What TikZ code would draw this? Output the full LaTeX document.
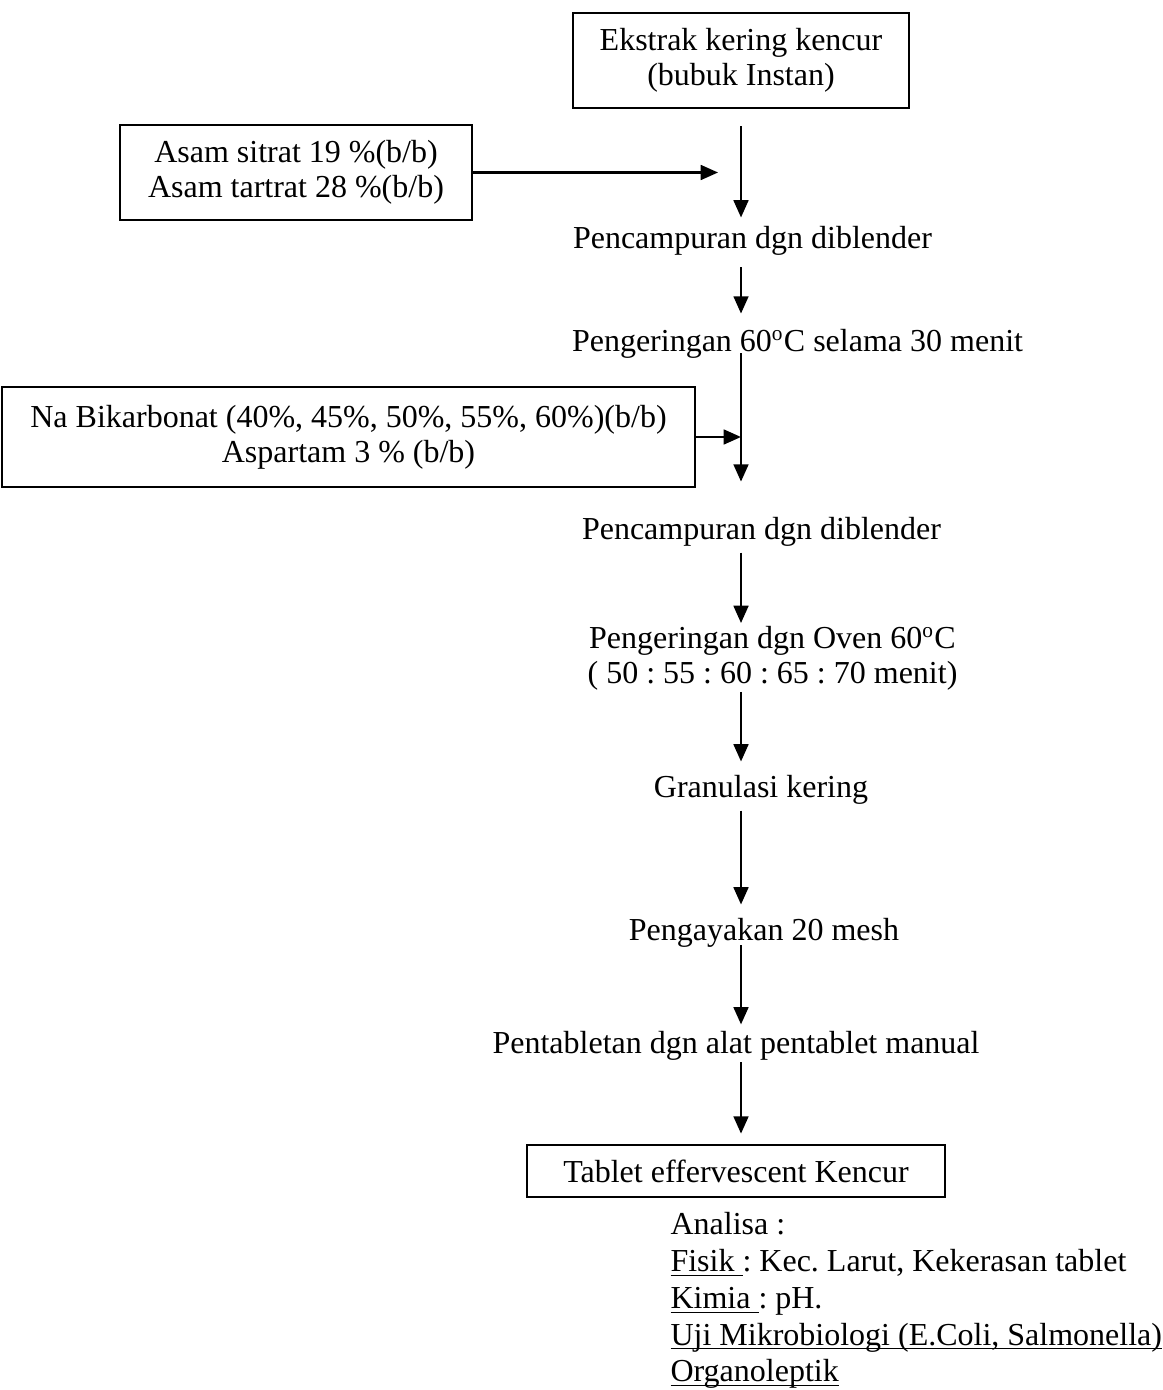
\documentclass[tikz,border=0pt]{standalone}
\usepackage{fontspec}
\setmainfont{Liberation Serif}
\usetikzlibrary{arrows.meta,positioning}
\frenchspacing
\newcommand{\ulbase}[1]{\underline{\smash{#1}}}

\begin{document}
\begin{tikzpicture}[
    x=0.375pt, y=-0.375pt,
    font=\fontsize{12}{13}\selectfont,
    box/.style={rectangle, draw=black, line width=1pt, align=center, inner sep=0pt},
    stepnode/.style={inner sep=0pt, text height=8.2pt, text depth=2.6pt, anchor=base},
    arrow/.style={-{Triangle[length=6.5pt, width=5.5pt]}, line width=1pt}
  ]
  \useasboundingbox (0,0) rectangle (1162,1390);
  \coordinate (ax) at (741,0);

  % boxes
  \node[box, minimum width=126pt, minimum height=35.6pt] (ekstrak) at (741,60.5) {Ekstrak kering kencur\\(bubuk Instan)};
  \node[box, minimum width=132pt, minimum height=35.6pt] (asam) at (296,172.5) {Asam sitrat 19 \%(b/b)\\Asam tartrat 28 \%(b/b)};
  \node[box, minimum width=259.9pt, minimum height=37.5pt] (nabik) at (348.5,437) {Na Bikarbonat (40\%, 45\%, 50\%, 55\%, 60\%)(b/b)\\Aspartam 3 \% (b/b)};

  % process steps
  \node[stepnode] (campur1) at (752.5,249) {Pencampuran dgn diblender};
  \node[stepnode] (kering1) at (797.5,352) {Pengeringan 60\textsuperscript{o}C selama 30 menit};
  \node[stepnode] (campur2) at (761.5,539) {Pencampuran dgn diblender};
  \node[inner sep=0pt, align=center, anchor=north] (oven) at (772.5,626) {Pengeringan dgn Oven 60\textsuperscript{o}C\\( 50 : 55 : 60 : 65 : 70 menit)};
  \node[stepnode] (granul) at (761,797) {Granulasi kering};
  \node[stepnode] (ayak) at (764,940) {Pengayakan 20 mesh};
  \node[stepnode] (cetak) at (736,1053) {Pentabletan dgn alat pentablet manual};
  \node[box, minimum width=156.75pt, minimum height=19.5pt] (tablet) at (736,1171) {Tablet effervescent Kencur};

  \node[inner sep=0pt, align=left, anchor=north west, font=\fontsize{12}{13.8}\selectfont] (analisa) at (670,1212)
    {Analisa :\\
     \ulbase{Fisik\ }: Kec. Larut, Kekerasan tablet\\
     \ulbase{Kimia\ }: pH.\\
     \ulbase{Uji Mikrobiologi (E.Coli, Salmonella)}\\
     \ulbase{Organoleptik}};

  % connectors
  \draw[arrow, shorten <=6.4pt, shorten >=3.4pt] (ekstrak.south -| ax) -- (campur1.north -| ax);
  \draw[arrow, shorten >=8.6pt] (asam.east) -- (asam.east -| ax);
  \draw[arrow, shorten <=4.1pt, shorten >=6pt] (campur1.south -| ax) -- (kering1.north -| ax);
  \draw[arrow, shorten <=-2.25pt, shorten >=13.1pt] (kering1.south -| ax) -- (campur2.north -| ax);
  \draw[arrow] (nabik.east) -- (nabik.east -| ax);
  \draw[arrow, shorten <=2.3pt, shorten >=1.1pt] (campur2.south -| ax) -- (oven.north -| ax);
  \draw[arrow, shorten <=0.4pt, shorten >=4.9pt] (oven.south -| ax) -- (granul.north -| ax);
  \draw[arrow, shorten <=2.3pt, shorten >=4.9pt] (granul.south -| ax) -- (ayak.north -| ax);
  \draw[arrow, shorten <=-0.75pt, shorten >=2.3pt] (ayak.south -| ax) -- (cetak.north -| ax);
  \draw[arrow, shorten <=0.75pt, shorten >=3.75pt] (cetak.south -| ax) -- (tablet.north -| ax);
\end{tikzpicture}
\end{document}
